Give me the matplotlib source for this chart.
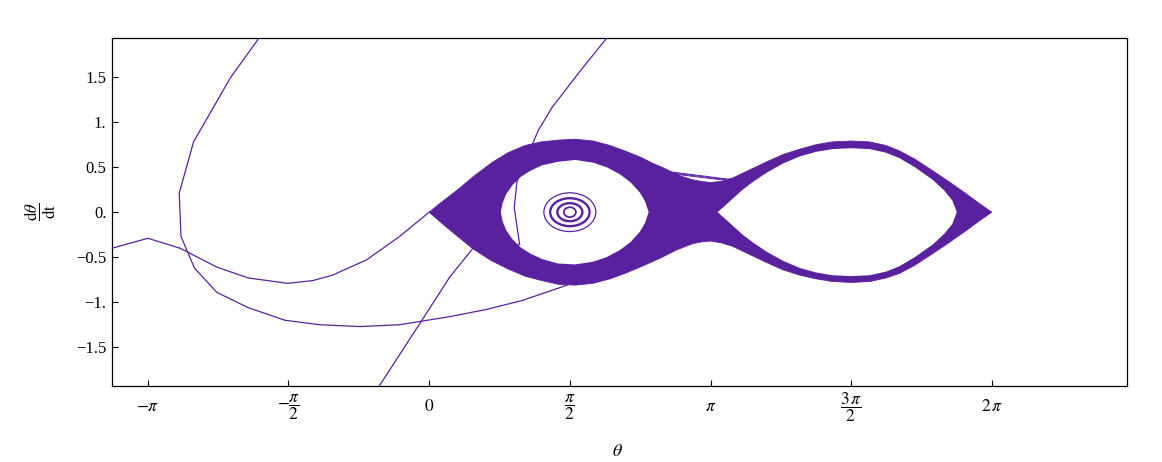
import numpy as np
import matplotlib
matplotlib.use("Agg")
import matplotlib.pyplot as plt
from matplotlib.patches import Ellipse

plt.rcParams['font.family'] = ['Liberation Serif', 'DejaVu Serif']
plt.rcParams['mathtext.fontset'] = 'stix'

purple = '#5a219f'

# outer edge of the band, top half (left tip -> right tip)
outer_top_theta = [0.0, 0.15, 0.32, 0.50, 0.70, 0.88, 1.07, 1.25, 1.44, 1.63, 1.83, 2.02, 2.21,
                   2.36, 2.50, 2.62, 2.72, 2.84, 2.94, 3.04, 3.14,
                   3.26, 3.39, 3.58, 3.77, 3.95, 4.14, 4.32, 4.50, 4.71, 4.92, 5.10, 5.25,
                   5.42, 5.62, 5.80, 6.00, 6.15, 6.28]
outer_top_y = [0.0, 0.12, 0.25, 0.40, 0.55, 0.66, 0.74, 0.78, 0.80, 0.81, 0.79, 0.74, 0.67,
               0.61, 0.54, 0.49, 0.44, 0.39, 0.36, 0.34, 0.33,
               0.34, 0.38, 0.47, 0.56, 0.64, 0.70, 0.75, 0.78, 0.79, 0.78, 0.74, 0.68,
               0.59, 0.46, 0.34, 0.20, 0.09, 0.0]
# outer edge, bottom half (left tip -> right tip)
outer_bot_theta = [0.0, 0.15, 0.32, 0.48, 0.68, 0.88, 1.07, 1.26, 1.44, 1.63, 1.83, 2.02, 2.21,
                   2.40, 2.58, 2.76, 2.94, 3.04, 3.14,
                   3.26, 3.39, 3.58, 3.77, 3.95, 4.14, 4.32, 4.50, 4.71, 4.92, 5.10, 5.25,
                   5.42, 5.62, 5.80, 6.00, 6.15, 6.28]
outer_bot_y = [0.0, -0.13, -0.27, -0.40, -0.53, -0.63, -0.71, -0.76, -0.80, -0.81, -0.79, -0.74, -0.67,
               -0.59, -0.51, -0.42, -0.35, -0.33, -0.32,
               -0.34, -0.38, -0.47, -0.56, -0.64, -0.70, -0.74, -0.77, -0.78, -0.77, -0.73, -0.68,
               -0.59, -0.46, -0.34, -0.20, -0.09, 0.0]

# hole of the left lobe (closed loop)
hole1_theta = [0.80, 0.82, 0.86, 0.93, 1.02, 1.13, 1.26, 1.44, 1.63, 1.83, 1.98, 2.13, 2.25, 2.35, 2.41, 2.45,
               2.41, 2.35, 2.25, 2.13, 1.98, 1.83, 1.63, 1.44, 1.26, 1.13, 1.02, 0.93, 0.86, 0.82]
hole1_y = [0.0, 0.10, 0.20, 0.30, 0.39, 0.46, 0.52, 0.56, 0.58, 0.55, 0.50, 0.42, 0.33, 0.22, 0.12, 0.0,
           -0.12, -0.22, -0.33, -0.42, -0.50, -0.55, -0.58, -0.57, -0.52, -0.46, -0.39, -0.30, -0.20, -0.10]

# hole of the right lobe (closed loop)
hole2_theta = [3.22, 3.30, 3.40, 3.50, 3.62, 3.77, 3.95, 4.14, 4.32, 4.50, 4.71, 4.92, 5.10, 5.25,
               5.42, 5.62, 5.75, 5.84, 5.89,
               5.84, 5.75, 5.62, 5.42, 5.25, 5.10, 4.92, 4.71, 4.50, 4.32, 4.14, 3.95, 3.77,
               3.62, 3.50, 3.40, 3.30]
hole2_y = [0.0, 0.07, 0.16, 0.25, 0.34, 0.44, 0.54, 0.62, 0.67, 0.70, 0.71, 0.70, 0.66, 0.60,
           0.50, 0.36, 0.24, 0.13, 0.0,
           -0.13, -0.24, -0.36, -0.50, -0.60, -0.66, -0.70, -0.71, -0.70, -0.67, -0.62, -0.54, -0.44,
           -0.34, -0.25, -0.16, -0.07]

# separate trajectories
curve_a_theta = [-1.88, -2.22, -2.63, -2.79, -2.77, -2.62, -2.37, -2.02, -1.61, -1.22,
                 -0.77, -0.33, 0.23, 0.64, 1.04, 1.54]
curve_a_y = [1.96, 1.49, 0.78, 0.21, -0.27, -0.62, -0.89, -1.06, -1.20, -1.25,
             -1.27, -1.25, -1.16, -1.08, -0.98, -0.81]

curve_b_theta = [-3.60, -3.54, -3.14, -2.78, -2.37, -2.02, -1.58, -1.30, -1.08, -0.70, -0.33, 0.0]
curve_b_y = [-0.47, -0.40, -0.29, -0.40, -0.61, -0.73, -0.79, -0.76, -0.70, -0.53, -0.27, 0.0]

curve_c_theta = [-0.66, -0.57, -0.10, 0.23, 0.49, 0.75, 1.01, 0.95, 0.98, 1.15, 1.22, 1.37, 1.68, 2.02]
curve_c_y = [-2.09, -1.95, -1.23, -0.72, -0.40, -0.42, -0.36, 0.05, 0.34, 0.75, 0.91, 1.16, 1.56, 1.98]

# few loose strands above the neck
strand_theta_start = [2.52, 2.55, 2.60]
strand_y_start = [0.47, 0.455, 0.44]
strand_theta_end = [3.47, 3.45, 3.42]
strand_y_end = [0.35, 0.345, 0.34]

# small orbits round the centre at (pi/2, 0)
ring_w = [0.58, 0.44, 0.28, 0.134]
ring_h = [0.43, 0.31, 0.20, 0.11]
ring_lw = [0.9, 1.7, 1.7, 1.3]

xtick_pos = [-np.pi, -np.pi / 2, 0, np.pi / 2, np.pi, 3 * np.pi / 2, 2 * np.pi]
xtick_labels = [r'$-\pi$', r'$-\dfrac{\pi}{2}$', r'$0$', r'$\dfrac{\pi}{2}$', r'$\pi$',
                r'$\dfrac{3\,\pi}{2}$', r'$2\,\pi$']
ytick_pos = [1.5, 1.0, 0.5, 0.0, -0.5, -1.0, -1.5]
ytick_labels = ['1.5', '1.', '0.5', '0.', '\u22120.5', '\u22121.', '\u22121.5']


fig = plt.figure(figsize=(11.62, 4.62), dpi=100)
ax = fig.add_axes([0.0964, 0.1645, 0.8735, 0.7525])

# band: outline filled, then the two holes cut out in white
ox = outer_top_theta + outer_bot_theta[::-1]
oy = outer_top_y + outer_bot_y[::-1]
ax.fill(ox, oy, color=purple, lw=0.6, ec=purple, zorder=2)
ax.fill(hole1_theta, hole1_y, color='white', lw=0, zorder=3)
ax.fill(hole2_theta, hole2_y, color='white', lw=0, zorder=3)

for xs, ys in [(curve_a_theta, curve_a_y), (curve_b_theta, curve_b_y), (curve_c_theta, curve_c_y)]:
    ax.plot(xs, ys, color=purple, lw=0.9, zorder=4)

for i in range(len(strand_theta_start)):
    ax.plot([strand_theta_start[i], strand_theta_end[i]], [strand_y_start[i], strand_y_end[i]],
            color=purple, lw=0.7, zorder=4)

for w, h, lw in zip(ring_w, ring_h, ring_lw):
    ax.add_patch(Ellipse((np.pi / 2, 0.0), w, h, fill=False, ec=purple, lw=lw, zorder=4))

ax.set_xlim(-3.54, 7.79)
ax.set_ylim(-1.93, 1.93)

ax.set_xticks(xtick_pos)
ax.set_xticklabels(xtick_labels, fontsize=12.5, va='center')
ax.set_yticks(ytick_pos)
ax.set_yticklabels(ytick_labels, fontsize=12)
ax.tick_params(axis='x', direction='in', length=4, width=0.8, pad=15)
ax.tick_params(axis='y', direction='in', length=4, width=0.8, pad=4)

for s in ax.spines.values():
    s.set_linewidth(0.9)

ax.set_xlabel(r'$\theta$', fontsize=13)
ax.xaxis.set_label_coords(0.4975, -0.164)
ax.set_ylabel(r'$\dfrac{\mathrm{d}\theta}{\mathrm{dt}}$', fontsize=12, rotation=90, va='center')
ax.yaxis.set_label_coords(-0.071, 0.5)

fig.savefig("out.png", dpi=100)
